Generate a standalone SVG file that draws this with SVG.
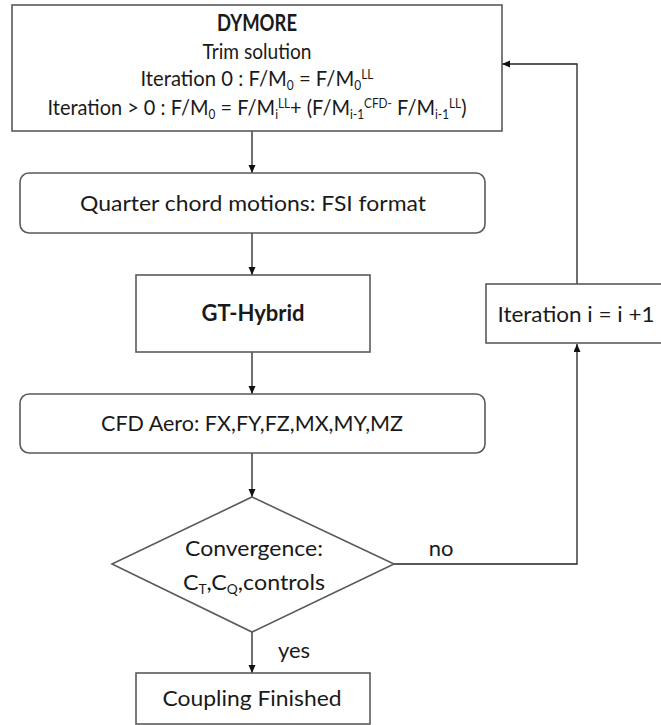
<svg xmlns="http://www.w3.org/2000/svg" width="661" height="725" viewBox="0 0 661 725">
<defs>
<marker id="ah" markerWidth="9" markerHeight="8" refX="8" refY="3.5" orient="auto" markerUnits="userSpaceOnUse">
<path d="M0,0 L8,3.5 L0,7 Z" fill="#111"/>
</marker>
<style>
.box{fill:#fff;stroke:#5a5a5a;stroke-width:1.6}
.ln{fill:none;stroke:#222;stroke-width:1.3}
.t{font-family:Lato,"Open Sans","Liberation Sans",sans-serif;font-size:22px;fill:#1a1a1a;text-anchor:middle}
.b{font-weight:bold}
.s{font-size:13px}
</style>
</defs>
<rect width="661" height="725" fill="#fff"/>
<g id="connectors">
<line class="ln" x1="252" y1="131" x2="252" y2="173" marker-end="url(#ah)"/>
<line class="ln" x1="252" y1="233" x2="252" y2="275" marker-end="url(#ah)"/>
<line class="ln" x1="252" y1="352" x2="252" y2="394" marker-end="url(#ah)"/>
<line class="ln" x1="252" y1="453" x2="252" y2="497" marker-end="url(#ah)"/>
<line class="ln" x1="252" y1="632" x2="252" y2="673" marker-end="url(#ah)"/>
<polyline class="ln" points="394,564 577,564 577,344" marker-end="url(#ah)"/>
<polyline class="ln" points="577,284 577,64 502,64" marker-end="url(#ah)"/>
<text class="t" x="441" y="556">no</text>
<text class="t" x="294" y="658">yes</text>
</g>
<g id="dymore">
<rect class="box" x="12" y="5" width="490" height="126"/>
<text class="t b" x="257" y="31" textLength="80" lengthAdjust="spacingAndGlyphs">DYMORE</text>
<text class="t" x="257" y="59" textLength="109" lengthAdjust="spacingAndGlyphs">Trim solution</text>
<text class="t" x="257" y="86" textLength="233" lengthAdjust="spacingAndGlyphs">Iteration 0 : F/M<tspan class="s" baseline-shift="-4">0</tspan> = F/M<tspan class="s" baseline-shift="-4">0</tspan><tspan class="s" baseline-shift="7">LL</tspan></text>
<text class="t" x="257" y="115" textLength="419" lengthAdjust="spacingAndGlyphs">Iteration &gt; 0 : F/M<tspan class="s" baseline-shift="-4">0</tspan> = F/M<tspan class="s" baseline-shift="-4">i</tspan><tspan class="s" baseline-shift="7">LL</tspan>+ (F/M<tspan class="s" baseline-shift="-4">i-1</tspan><tspan class="s" baseline-shift="7">CFD-</tspan> F/M<tspan class="s" baseline-shift="-4">i-1</tspan><tspan class="s" baseline-shift="7">LL</tspan>)</text>
</g>
<g id="quarter">
<rect class="box" x="20" y="173" width="465" height="60" rx="9"/>
<text class="t" x="253" y="211" textLength="346" lengthAdjust="spacingAndGlyphs">Quarter chord motions: FSI format</text>
</g>
<g id="gthybrid">
<rect class="box" x="136" y="275" width="234" height="77"/>
<text class="t b" x="253" y="321">GT-Hybrid</text>
</g>
<g id="iteration">
<rect class="box" x="486" y="284" width="190" height="59"/>
<text class="t" x="576" y="322" textLength="157" lengthAdjust="spacingAndGlyphs">Iteration i = i +1</text>
</g>
<g id="cfd">
<rect class="box" x="20" y="394" width="465" height="59" rx="9"/>
<text class="t" x="252" y="431" textLength="302" lengthAdjust="spacingAndGlyphs">CFD Aero: FX,FY,FZ,MX,MY,MZ</text>
</g>
<g id="convergence">
<polygon class="box" points="252,497 394,564 252,632 112,564"/>
<text class="t" x="254" y="556" textLength="138" lengthAdjust="spacingAndGlyphs">Convergence:</text>
<text class="t" x="254" y="590" textLength="142" lengthAdjust="spacingAndGlyphs">C<tspan class="s" baseline-shift="-4">T</tspan>,C<tspan class="s" baseline-shift="-4">Q</tspan>,controls</text>
</g>
<g id="finished">
<rect class="box" x="136" y="673" width="234" height="51"/>
<text class="t" x="252" y="706" textLength="179" lengthAdjust="spacingAndGlyphs">Coupling Finished</text>
</g>
</svg>
